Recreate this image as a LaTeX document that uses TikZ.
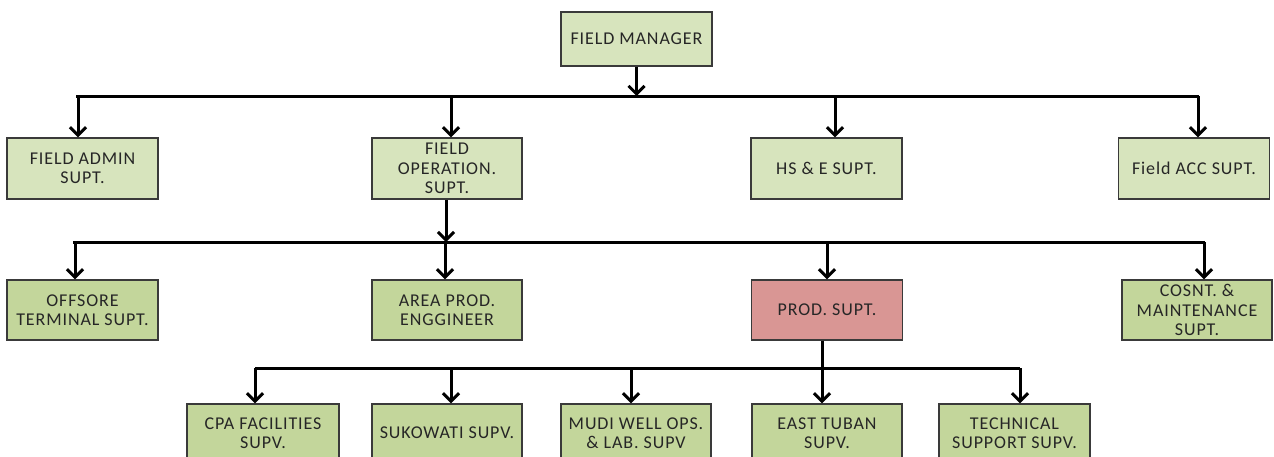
\documentclass[tikz,border=0pt]{standalone}
\usepackage{fontspec}
\setmainfont{Carlito}[LetterSpace=5]
\usetikzlibrary{arrows.meta}
\definecolor{paleg}{HTML}{D7E4BD}
\definecolor{midg}{HTML}{C3D69B}
\definecolor{rose}{HTML}{D99694}
\definecolor{edge}{HTML}{3A3A3A}
\definecolor{txt}{HTML}{262626}
\tikzset{
  box/.style={draw=edge, line width=1.4pt, rectangle, align=center, inner sep=1pt,
    font=\fontsize{18}{19.5}\selectfont, text=txt, minimum height=61pt},
  lvA/.style={box, fill=paleg},
  lvB/.style={box, fill=midg},
  lvP/.style={box, fill=rose},
  bus/.style={line width=3pt, black},
  arr/.style={line width=3pt, black, -{Straight Barb[length=8pt,width=16pt,line width=3pt]}}
}
\begin{document}
\begin{tikzpicture}[x=1pt,y=-1pt]
\useasboundingbox (0,0) rectangle (1274,456);
% level 1
\node[lvA, minimum width=151pt, minimum height=54pt] (fm) at (636.5,39) {FIELD MANAGER};
% level 2
\node[lvA, minimum width=151pt] (admin) at (82.5,168.5) {FIELD ADMIN\\SUPT.};
\node[lvA, minimum width=150pt] (fop) at (447,168.5) {FIELD\\OPERATION.\\SUPT.};
\node[lvA, minimum width=151pt] (hse) at (826.5,168.5) {HS \& E SUPT.};
\node[lvA, minimum width=151pt] (acc) at (1194,168.5) {Field ACC SUPT.};
% level 3
\node[lvB, minimum width=151pt, minimum height=60pt] (off) at (82.5,310) {OFFSORE\\TERMINAL SUPT.};
\node[lvB, minimum width=150pt, minimum height=60pt] (area) at (447,310) {AREA PROD.\\ENGGINEER};
\node[lvP, minimum width=151pt, minimum height=60pt] (prod) at (827,310) {PROD. SUPT.};
\node[lvB, minimum width=150pt, minimum height=60pt] (cons) at (1197,310) {COSNT. \&\\MAINTENANCE\\SUPT.};
% level 4
\node[lvB, minimum width=152pt, minimum height=58pt] (cpa) at (263,433) {CPA FACILITIES\\SUPV.};
\node[lvB, minimum width=150pt, minimum height=58pt] (suk) at (447,433) {SUKOWATI SUPV.};
\node[lvB, minimum width=150pt, minimum height=58pt] (mudi) at (636,433) {MUDI WELL OPS.\\\& LAB. SUPV};
\node[lvB, minimum width=150pt, minimum height=58pt] (east) at (827,433) {EAST TUBAN\\SUPV.};
\node[lvB, minimum width=151pt, minimum height=58pt] (tech) at (1014.5,433) {TECHNICAL\\SUPPORT SUPV.};
% buses
\coordinate (b1l) at (76,96);
\coordinate (b1r) at (1199,96);
\coordinate (b2l) at (73,242);
\coordinate (b2r) at (1205,242);
\coordinate (b3l) at (255,368);
\coordinate (b3r) at (1020,368);
\draw[bus] (b1l) -- (b1r);
\draw[bus] (b2l) -- (b2r);
\draw[bus] (b3l) -- (b3r);
% level 1 -> bus 1
\draw[arr] (fm.south) -- (fm.south |- b1l);
\draw[arr] ([xshift=-4.5pt]admin.north |- b1l) -- ([xshift=-4.5pt]admin.north);
\draw[arr] ([xshift=4pt]fop.north |- b1l) -- ([xshift=4pt]fop.north);
\draw[arr] ([xshift=8.5pt]hse.north |- b1l) -- ([xshift=8.5pt]hse.north);
\draw[arr] ([xshift=4pt]acc.north |- b1l) -- ([xshift=4pt]acc.north);
% fop -> bus 2
\draw[arr] ([xshift=-1pt]fop.south) -- ([xshift=-1pt]fop.south |- b2l);
\draw[arr] ([xshift=-7.5pt]off.north |- b2l) -- ([xshift=-7.5pt]off.north);
\draw[arr] ([xshift=-2pt]area.north |- b2l) -- ([xshift=-2pt]area.north);
\draw[arr] (prod.north |- b2l) -- (prod.north);
\draw[arr] ([xshift=7pt]cons.north |- b2l) -- ([xshift=7pt]cons.north);
% prod -> bus 3
\draw[arr] ([xshift=-5pt]prod.south) -- ([xshift=-5pt]east.north);
\draw[arr] ([xshift=-8pt]cpa.north |- b3l) -- ([xshift=-8pt]cpa.north);
\draw[arr] ([xshift=4pt]suk.north |- b3l) -- ([xshift=4pt]suk.north);
\draw[arr] ([xshift=-5pt]mudi.north |- b3l) -- ([xshift=-5pt]mudi.north);
\draw[arr] ([xshift=5.5pt]tech.north |- b3l) -- ([xshift=5.5pt]tech.north);
\end{tikzpicture}
\end{document}
